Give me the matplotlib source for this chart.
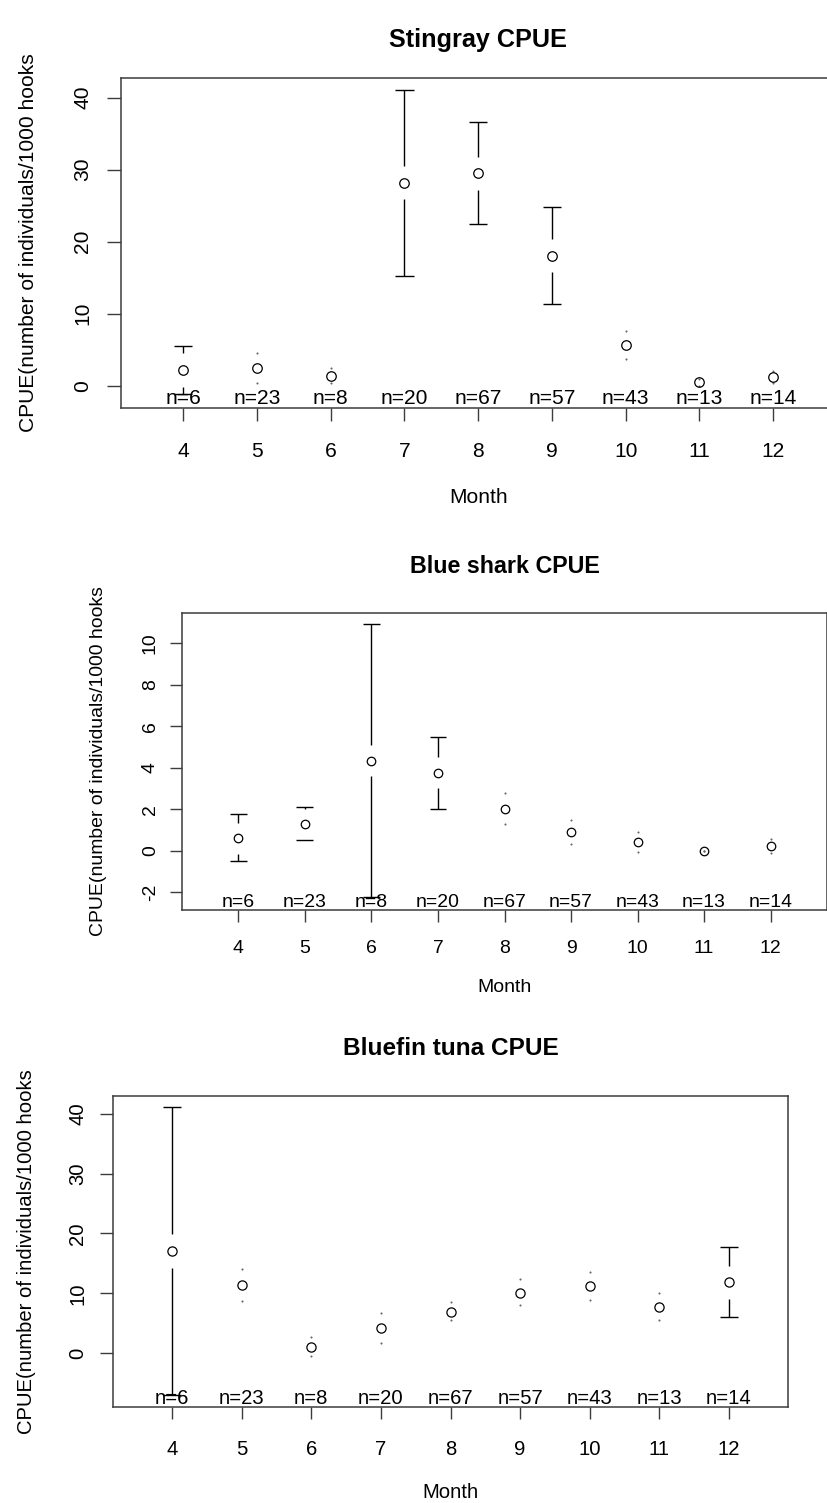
import matplotlib
matplotlib.use('Agg')
import matplotlib.pyplot as plt

plt.rcParams['font.family'] = ['Liberation Sans', 'DejaVu Sans']

# ---------------- data ----------------
months = [4, 5, 6, 7, 8, 9, 10, 11, 12]
sample_sizes = [6, 23, 8, 20, 67, 57, 43, 13, 14]

stingray_mean = [2.18, 2.46, 1.39, 28.2, 29.5, 18.06, 5.65, 0.47, 1.17]
stingray_upper = [5.56, 4.5, 2.4, 41.0, 36.6, 24.8, 7.65, 0.97, 1.97]
stingray_lower = [-1.2, 0.42, 0.38, 15.2, 22.4, 11.35, 3.65, -0.03, 0.37]

blueshark_mean = [0.60, 1.27, 4.34, 3.76, 2.03, 0.89, 0.42, 0.0, 0.22]
blueshark_upper = [1.75, 2.09, 10.93, 5.48, 2.76, 1.48, 0.90, 0.0, 0.55]
blueshark_lower = [-0.50, 0.50, -2.25, 2.03, 1.30, 0.32, -0.05, 0.0, -0.12]

bluefin_mean = [17.08, 11.33, 1.10, 4.27, 6.93, 10.10, 11.17, 7.68, 11.83]
bluefin_upper = [41.07, 14.0, 2.67, 6.77, 8.6, 12.33, 13.55, 10.0, 17.72]
bluefin_lower = [-6.9, 8.65, -0.45, 1.67, 5.55, 8.0, 8.9, 5.6, 6.0]

titles = ['Stingray CPUE', 'Blue shark CPUE', 'Bluefin tuna CPUE']
ylabel_text = 'CPUE(number of individuals/1000 hooks'
xlabel_text = 'Month'

# ---------------- layout (pixels) ----------------
W, H = 828, 1503
fig = plt.figure(figsize=(W / 100, H / 100), dpi=100)
PT = 0.72  # points per pixel at 100 dpi

panels = [
    dict(title=titles[0], mean=stingray_mean, upper=stingray_upper, lower=stingray_lower,
         yticks=[0, 10, 20, 30, 40], ylim=(-3.06, 42.69),
         box=(120.7, 835.6, 78.3, 407.7), em=21.0,
         title_base=47.0, xlab_y=497.5, ylab_x=29.0,
         xtick_len=13.0, ytick_len=14.0, xpad=21.0, ypad=24.0,
         gap=16.7, cap=9.3, msz=9.5, nofs=3.7),
    dict(title=titles[1], mean=blueshark_mean, upper=blueshark_upper, lower=blueshark_lower,
         yticks=[-2, 0, 2, 4, 6, 8, 10], ylim=(-2.874, 11.475),
         box=(182.0, 827.0, 612.7, 910.3), em=19.4,
         title_base=573.3, xlab_y=987.0, ylab_x=98.3,
         xtick_len=12.4, ytick_len=12.0, xpad=17.3, ypad=19.7,
         gap=15.5, cap=8.4, msz=8.5, nofs=3.6),
    dict(title=titles[2], mean=bluefin_mean, upper=bluefin_upper, lower=bluefin_lower,
         yticks=[0, 10, 20, 30, 40], ylim=(-8.96, 43.0),
         box=(113.3, 787.7, 1095.7, 1407.0), em=20.3,
         title_base=1055.0, xlab_y=1492.7, ylab_x=27.0,
         xtick_len=12.3, ytick_len=13.3, xpad=20.7, ypad=22.2,
         gap=16.8, cap=8.8, msz=9.2, nofs=3.0),
]

xlim = (3.153, 12.847)
spine_color = '#3c3c3c'

for p in panels:
    l, r, t, b = p['box']
    ax = fig.add_axes([l / W, 1 - b / H, (r - l) / W, (b - t) / H])
    ax.set_xlim(*xlim)
    ax.set_ylim(*p['ylim'])
    fs = p['em'] * PT

    for s in ax.spines.values():
        s.set_color(spine_color)
        s.set_linewidth(1.1)

    # data-unit conversions for gap and cap
    ypx = (b - t) / (p['ylim'][1] - p['ylim'][0])
    xpx = (r - l) / (xlim[1] - xlim[0])
    gap = p['gap'] / ypx
    cap = p['cap'] / xpx

    for x, m, u, lo in zip(months, p['mean'], p['upper'], p['lower']):
        # upper part
        if u > m + gap:
            ax.vlines(x, m + gap, u, color='black', lw=1.0)
            ax.hlines(u, x - cap, x + cap, color='black', lw=1.0)
        else:
            ax.plot([x], [u], marker='o', ms=1.5, mew=0, color='0.4', ls='none')
        # lower part
        if lo < m - gap:
            ax.vlines(x, lo, m - gap, color='black', lw=1.0)
            ax.hlines(lo, x - cap, x + cap, color='black', lw=1.0)
        else:
            ax.plot([x], [lo], marker='o', ms=1.5, mew=0, color='0.4', ls='none')

    ax.plot(months, p['mean'], ls='none', marker='o', ms=p['msz'] * PT,
            mfc='none', mec='black', mew=0.9)

    for x, n in zip(months, sample_sizes):
        ax.annotate(f'n={n}', xy=(x, p['ylim'][0]), xytext=(0, p['nofs'] * PT),
                    textcoords='offset points', ha='center', va='baseline',
                    fontsize=fs, color='black')

    ax.set_xticks(months)
    ax.set_xticklabels([str(m) for m in months], fontsize=fs)
    ax.set_yticks(p['yticks'])
    ax.set_yticklabels([str(v) for v in p['yticks']], fontsize=fs,
                       rotation=90, va='center', ha='center')
    ax.tick_params(axis='x', length=p['xtick_len'] * PT, width=1.0, color=spine_color,
                   pad=p['xpad'] * PT)
    ax.tick_params(axis='y', length=p['ytick_len'] * PT, width=1.0, color=spine_color,
                   pad=p['ypad'] * PT)
    for tk in ax.yaxis.get_major_ticks():
        tk.label1.set_ha('center')
        tk.label1.set_va('center')
        tk.label1.set_rotation(90)

    ax.set_title(p['title'], fontsize=fs * 1.2, fontweight='bold',
                 pad=(t - p['title_base']) * PT)

    ax.set_xlabel(xlabel_text, fontsize=fs, va='center')
    ax.xaxis.set_label_coords(0.5, -(p['xlab_y'] - b) / (b - t))
    ax.set_ylabel(ylabel_text, fontsize=fs, va='center')
    ax.yaxis.set_label_coords(-(l - p['ylab_x']) / (r - l), 0.5)

fig.savefig('out.png', dpi=100, facecolor='white')
